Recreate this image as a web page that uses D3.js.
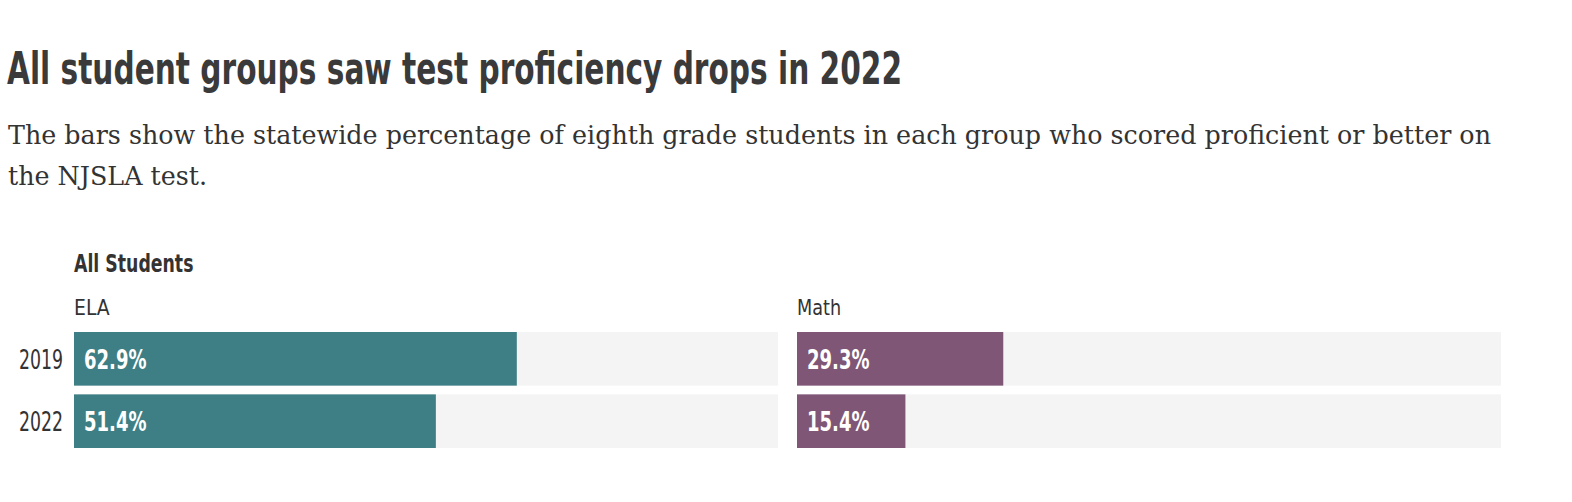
<!DOCTYPE html>
<html>
<head>
<meta charset="utf-8">
<script src="https://cdn.jsdelivr.net/npm/d3@7"></script>
<style>
  html, body { margin: 0; padding: 0; background: #fff; overflow: hidden; }
  svg { display: block; }
</style>
</head>
<body>
<svg id="chart" width="1572" height="502"></svg>
<script>
// ---- data ----
const titleText = "All student groups saw test proficiency drops in 2022";
const subtitleLines = [
  "The bars show the statewide percentage of eighth grade students in each group who scored proficient or better on",
  "the NJSLA test."
];
const groupName = "All Students";
const years = ["2019", "2022"];
const subjects = ["ELA", "Math"];
const elaValues = [62.9, 51.4];
const mathValues = [29.3, 15.4];
const subjectColors = ["#3d7f84", "#7f5675"];

// ---- layout ----
const svg = d3.select("#chart");
const condensed = "'DejaVu Sans Condensed', 'DejaVu Sans', sans-serif";
const serif = "'DejaVu Serif', 'Liberation Serif', serif";
const textColor = "#333333";

function squeeze(sel, f) {
  sel.each(function () {
    const len = this.getComputedTextLength();
    d3.select(this).attr("textLength", len * f).attr("lengthAdjust", "spacingAndGlyphs");
  });
}

// title
svg.append("text")
  .attr("x", 7).attr("y", 84)
  .attr("font-family", condensed).attr("font-weight", "bold")
  .attr("font-size", 45).attr("fill", "#3a3a3a")
  .attr("textLength", 895).attr("lengthAdjust", "spacingAndGlyphs")
  .text(titleText);

// subtitle
const firstLineWidth = 1483;
const tmp = svg.append("text").attr("font-family", serif).attr("font-size", 26).text(subtitleLines[0]);
const subFactor = firstLineWidth / tmp.node().getComputedTextLength();
tmp.remove();
subtitleLines.forEach((line, i) => {
  svg.append("text")
    .attr("x", 8).attr("y", 144 + i * 41)
    .attr("font-family", serif)
    .attr("font-size", 26).attr("fill", textColor)
    .text(line)
    .call(squeeze, subFactor);
});

// group label
svg.append("text")
  .attr("x", 74).attr("y", 272)
  .attr("font-family", condensed).attr("font-weight", "bold")
  .attr("font-size", 25).attr("fill", "#333")
  .text(groupName)
  .call(squeeze, 0.77);

const panelLeft = [74, 797];
const panelWidth = 704;
const y = d3.scaleBand().domain(years).range([332, 448]).paddingInner(0.14);

// year labels
svg.append("g").selectAll("text").data(years).join("text")
  .attr("x", 63)
  .attr("y", d => y(d) + y.bandwidth() / 2 + 10)
  .attr("text-anchor", "end")
  .attr("font-family", condensed).attr("font-size", 26)
  .attr("fill", textColor)
  .text(d => d)
  .call(squeeze, 0.74);

const allValues = [elaValues, mathValues];
subjects.forEach((subj, si) => {
  const x = d3.scaleLinear().domain([0, 100]).range([panelLeft[si], panelLeft[si] + panelWidth]);
  const g = svg.append("g");
  g.append("text")
    .attr("x", x(0)).attr("y", 315)
    .attr("font-family", condensed).attr("font-size", 22)
    .attr("fill", textColor)
    .text(subj)
    .call(squeeze, si === 0 ? 0.95 : 0.89);

  const rows = years.map((yr, i) => ({ year: yr, value: allValues[si][i] }));
  g.selectAll("rect.track").data(rows).join("rect")
    .attr("class", "track")
    .attr("x", x(0)).attr("y", d => y(d.year))
    .attr("width", x(100) - x(0)).attr("height", y.bandwidth())
    .attr("fill", "#f4f4f4");
  g.selectAll("rect.bar").data(rows).join("rect")
    .attr("class", "bar")
    .attr("x", x(0)).attr("y", d => y(d.year))
    .attr("width", d => x(d.value) - x(0)).attr("height", y.bandwidth())
    .attr("fill", subjectColors[si]);
  g.selectAll("text.val").data(rows).join("text")
    .attr("class", "val")
    .attr("x", x(0) + 10)
    .attr("y", d => y(d.year) + y.bandwidth() / 2 + 10)
    .attr("font-family", condensed).attr("font-weight", "bold")
    .attr("font-size", 26).attr("fill", "#ffffff")
    .text(d => d.value.toFixed(1) + "%")
    .call(squeeze, 0.77);
});
</script>
</body>
</html>
